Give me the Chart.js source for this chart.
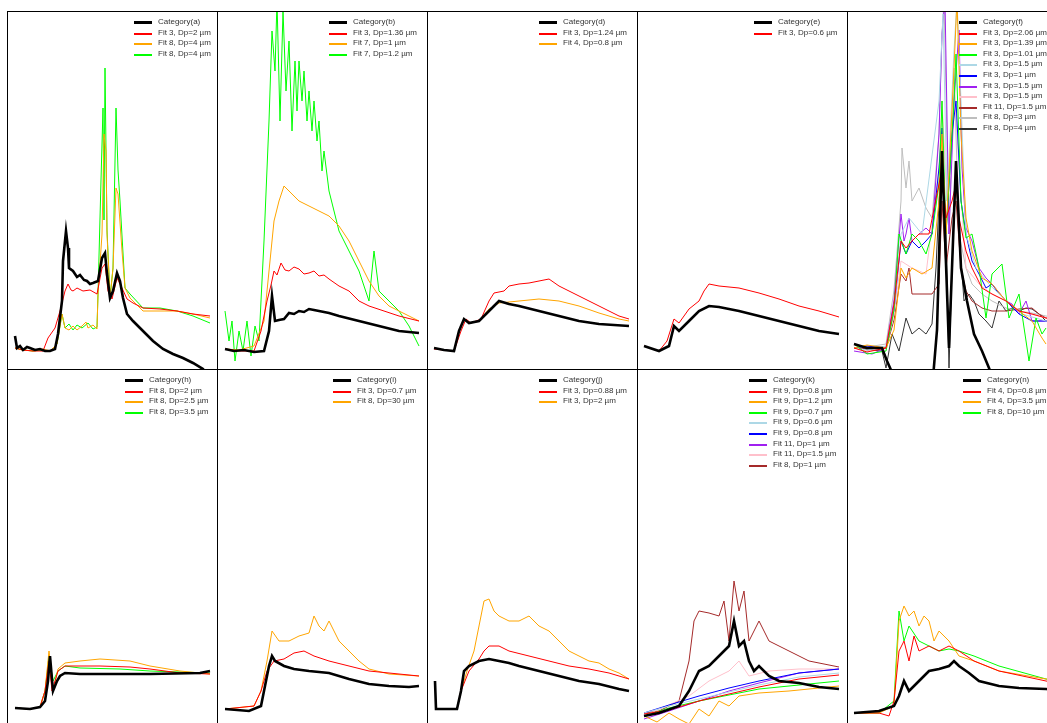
<!DOCTYPE html>
<html><head><meta charset="utf-8">
<script src="https://cdn.jsdelivr.net/npm/chart.js@4.4.0/dist/chart.umd.min.js"></script>
<style>
body{margin:0;background:#fff;width:1047px;height:723px;overflow:hidden;position:relative;font-family:"Liberation Sans",Arial,sans-serif;}
.panel{position:absolute;width:211px;height:359px;}
.panel canvas{position:absolute;left:0;top:0}
.frame{position:absolute;left:0;top:0;width:211px;height:359px;box-sizing:border-box;border:1px solid #000;pointer-events:none}
.legend{position:absolute;font-size:8px;color:#333;}
.legend .row{position:absolute;left:0;height:10px;white-space:nowrap}
.legend .sw{position:absolute;left:0;width:18px}
.legend .tx{position:absolute;left:24px;top:0;line-height:10px}
</style></head><body>
<script>
// ---- Panel (a)
const catA=[[8,34],[10,22],[13,24],[16,20],[20,23],[23,22],[28,20],[33,21],[38,19],[43,19],[48,21],[51,36],[55,69],[56,109],[59,139],[61,122],[62,102],[66,99],[70,93],[73,95],[77,90],[80,89],[83,86],[86,87],[91,89],[95,112],[98,117],[100,96],[103,72],[106,79],[110,97],[113,89],[116,72],[120,56],[126,49],[136,39],[146,29],[156,21],[166,16],[176,12],[186,7],[196,1],[200,-5]];
const a1=[[8,22],[16,20],[26,19],[36,19],[41,32],[48,42],[53,59],[58,79],[61,86],[64,80],[66,79],[70,82],[76,79],[83,80],[90,76],[95,102],[98,106],[101,79],[105,71],[110,92],[115,82],[120,71],[126,67],[136,62],[153,61],[170,59],[186,56],[203,54]];
const a2=[[8,22],[16,20],[26,19],[36,21],[43,19],[50,26],[55,56],[58,42],[62,40],[66,44],[70,40],[75,44],[79,48],[81,42],[86,45],[90,41],[91,76],[95,136],[97,236],[99,219],[100,136],[103,72],[106,102],[109,182],[111,176],[115,119],[118,82],[123,72],[136,59],[153,59],[170,59],[186,56],[203,52]];
const a3=[[8,22],[16,20],[26,19],[36,20],[43,19],[50,26],[55,56],[58,42],[62,46],[66,40],[70,45],[75,42],[81,47],[86,41],[90,43],[91,76],[94,190],[96,262],[97,150],[98,302],[100,140],[103,72],[106,102],[109,262],[111,200],[113,169],[118,82],[123,76],[136,62],[153,62],[170,59],[186,54],[203,47]];
// ---- Panel (b)
const catB=[[8,21],[17,19],[27,20],[37,18],[47,19],[52,39],[55,74],[58,49],[62,50],[67,51],[72,57],[77,56],[82,59],[87,58],[92,61],[97,60],[102,59],[112,57],[122,54],[142,49],[162,44],[182,39],[202,37]];
const b1=[[8,21],[22,19],[37,19],[44,39],[50,69],[54,85],[57,99],[60,95],[64,107],[68,100],[72,99],[77,103],[82,101],[87,96],[92,97],[97,99],[102,94],[107,95],[112,91],[122,84],[132,79],[142,69],[152,64],[167,59],[182,54],[202,49]];
const b2=[[8,21],[22,20],[37,24],[47,49],[52,99],[57,149],[62,169],[67,184],[72,179],[77,174],[82,169],[92,164],[102,159],[112,154],[122,144],[132,129],[142,109],[152,89],[162,74],[172,64],[182,59],[202,49]];
const b3=[[8,59],[12,29],[15,49],[18,9],[22,39],[26,19],[30,49],[34,14],[38,44],[42,29],[47,129],[52,249],[55,339],[58,299],[60,369],[63,249],[66,359],[69,279],[72,329],[75,239],[78,309],[80,259],[82,309],[85,269],[87,299],[90,249],[92,279],[95,239],[97,269],[100,229],[102,249],[105,199],[107,219],[112,179],[117,159],[122,139],[132,119],[142,99],[152,69],[157,119],[162,79],[172,69],[182,59],[192,44],[202,24]];
// ---- Panel (d)
const catD=[[7,22],[17,20],[27,19],[32,39],[37,51],[42,47],[52,49],[62,59],[67,64],[72,69],[82,66],[92,64],[112,59],[132,54],[152,49],[172,46],[202,44]];
const d1=[[7,21],[17,20],[27,19],[34,39],[39,51],[44,47],[54,51],[62,69],[67,77],[77,79],[82,84],[92,86],[102,87],[112,89],[122,91],[132,84],[142,79],[152,74],[162,69],[172,64],[182,59],[192,54],[202,51]];
const d2=[[7,22],[17,20],[27,19],[32,39],[37,51],[42,47],[52,49],[62,61],[72,67],[92,69],[112,71],[132,69],[152,64],[172,57],[192,51],[202,49]];
// ---- Panel (e)
const catE=[[7,24],[22,19],[32,24],[37,44],[42,39],[52,49],[62,59],[72,64],[82,63],[102,59],[122,54],[142,49],[162,44],[182,39],[202,36]];
const e1=[[7,24],[22,19],[30,29],[37,51],[42,47],[52,61],[62,69],[67,79],[72,86],[82,84],[102,82],[122,77],[142,71],[162,64],[182,59],[202,53]];
// ---- Panel (f)
const catF=[[7,26],[20,22],[35,22],[40,9],[44,0],[60,-20],[85,-20],[90,40],[95,219],[102,22],[109,209],[114,102],[120,69],[127,36],[135,19],[142,2],[150,-20]];
const f1=[[7,22],[20,18],[39,22],[47,66],[54,129],[59,122],[65,129],[72,136],[82,136],[92,186],[95,202],[99,152],[105,169],[109,186],[112,152],[119,119],[125,102],[135,82],[145,76],[159,69],[172,59],[185,56],[199,52],[211,50]];
const f2=[[7,22],[20,25],[39,22],[47,40],[54,102],[59,92],[65,102],[75,96],[85,102],[92,169],[95,236],[99,136],[107,302],[110,370],[114,236],[119,152],[125,119],[135,92],[145,86],[159,69],[172,59],[185,49],[195,32],[199,26]];
const f3=[[7,26],[20,16],[39,19],[47,60],[52,136],[59,116],[65,136],[72,129],[79,116],[85,136],[92,186],[95,269],[99,136],[107,269],[109,316],[114,169],[119,132],[125,136],[132,102],[139,52],[145,96],[155,106],[162,52],[172,76],[182,9],[189,52],[195,36],[199,42]];
const f4=[[7,22],[20,20],[39,24],[47,60],[54,136],[62,152],[75,136],[92,269],[96,356],[100,169],[107,319],[110,370],[114,269],[119,136],[129,102],[142,86],[159,69],[175,56],[199,49],[211,47]];
const f5=[[7,22],[20,24],[39,22],[47,60],[54,129],[59,116],[65,129],[72,122],[79,129],[85,136],[92,202],[95,242],[99,136],[105,236],[109,269],[114,169],[119,136],[125,109],[132,96],[139,82],[145,86],[152,76],[159,69],[172,56],[185,49],[199,49],[211,45]];
const f6=[[7,19],[25,16],[39,22],[47,70],[54,156],[57,129],[59,136],[62,152],[65,129],[72,136],[79,142],[85,136],[92,236],[95,336],[98,370],[102,136],[107,269],[112,340],[115,202],[119,142],[125,129],[132,102],[139,92],[145,86],[159,69],[165,66],[172,56],[179,69],[185,49],[199,49],[211,47]];
const f7=[[7,22],[20,19],[39,22],[47,55],[54,109],[65,102],[79,96],[92,202],[95,269],[100,169],[107,286],[112,202],[119,102],[132,86],[145,76],[159,69],[172,59],[199,52],[211,50]];
const f8=[[7,22],[20,21],[39,22],[47,50],[54,96],[59,89],[62,102],[65,76],[79,76],[85,76],[92,86],[95,169],[99,102],[105,152],[109,169],[114,102],[119,79],[125,69],[135,62],[145,59],[159,59],[172,61],[185,62],[192,56],[199,52],[211,50]];
const f9=[[7,22],[20,23],[39,26],[47,80],[54,169],[55,222],[59,182],[62,209],[65,169],[72,182],[79,162],[85,152],[92,236],[95,336],[97,370],[102,136],[107,302],[112,136],[119,102],[125,86],[135,76],[145,69],[159,62],[172,59],[185,57],[199,54],[211,52]];
const f10=[[7,26],[20,20],[35,19],[39,2],[45,36],[52,19],[59,52],[65,36],[72,42],[79,36],[85,46],[89,102],[92,169],[95,202],[99,136],[102,2],[105,102],[109,202],[112,136],[117,69],[122,76],[127,69],[132,56],[139,49],[145,42],[152,69],[159,59],[165,62],[172,59],[179,62],[185,61],[192,56],[199,49],[211,45]];
// ---- Panel (h)
const catH=[[8,20],[23,19],[33,21],[38,27],[41,47],[43,72],[46,37],[50,47],[53,52],[58,55],[73,54],[93,54],[143,54],[193,55],[203,57]];
const h1=[[8,20],[23,19],[33,21],[38,37],[42,67],[45,37],[51,57],[58,62],[73,62],[93,62],[123,61],[143,59],[173,55],[203,54]];
const h2=[[8,20],[23,19],[33,21],[38,37],[42,77],[46,37],[51,59],[58,65],[73,67],[93,69],[123,67],[143,62],[173,57],[203,54]];
const h3=[[8,20],[23,19],[33,21],[38,37],[42,72],[46,47],[51,57],[58,62],[73,60],[113,59],[143,57],[203,55]];
// ---- Panel (i)
const catI=[[8,19],[32,17],[44,22],[47,37],[52,62],[55,72],[58,67],[67,62],[77,59],[92,57],[112,55],[132,49],[152,44],[172,42],[192,41],[202,42]];
const i1=[[8,19],[37,22],[44,37],[50,57],[57,67],[67,69],[77,75],[87,77],[97,72],[112,67],[132,62],[152,57],[172,55],[202,52]];
const i2=[[8,19],[37,22],[44,37],[50,67],[55,97],[62,87],[72,87],[82,92],[92,95],[97,112],[102,102],[107,97],[112,107],[117,97],[122,87],[132,77],[142,67],[152,59],[172,54],[202,52]];
// ---- Panel (j)
const catJ=[[8,47],[9,19],[30,19],[34,37],[37,57],[42,62],[52,67],[62,69],[72,67],[82,65],[92,62],[112,57],[132,52],[152,47],[172,44],[192,39],[202,37]];
const j1=[[9,19],[30,19],[34,37],[42,57],[52,69],[57,77],[62,82],[72,82],[82,77],[102,72],[122,67],[142,62],[162,59],[182,55],[202,49]];
const j2=[[9,19],[30,19],[34,37],[40,57],[47,77],[52,102],[57,127],[62,129],[67,117],[72,112],[82,107],[92,107],[102,112],[112,102],[122,97],[132,87],[142,77],[152,72],[162,67],[172,65],[182,59],[192,55],[202,49]];
// ---- Panel (k)
const catK=[[7,12],[22,15],[42,22],[52,37],[57,47],[62,57],[72,62],[82,72],[92,82],[97,107],[102,82],[107,87],[112,67],[117,57],[122,62],[132,52],[142,47],[162,45],[182,41],[202,39]];
const k1=[[7,14],[32,18],[62,27],[92,34],[122,41],[162,49],[202,53]];
const k2=[[7,12],[20,6],[32,15],[42,9],[52,4],[62,19],[72,12],[82,27],[92,22],[102,32],[122,35],[152,37],[172,39],[202,42]];
const k3=[[7,12],[32,20],[62,27],[92,33],[122,39],[162,43],[202,47]];
const k4=[[7,15],[32,22],[62,29],[92,36],[122,43],[162,51],[202,55]];
const k5=[[7,15],[32,23],[62,32],[92,40],[122,47],[162,55],[202,59]];
const k6=[[7,9],[32,17],[62,27],[92,37],[122,45],[162,55],[202,59]];
const k7=[[7,12],[52,32],[72,47],[92,57],[102,67],[112,52],[132,57],[162,59],[202,59]];
const k8=[[7,15],[22,17],[42,27],[52,67],[57,107],[62,117],[72,115],[82,112],[87,127],[92,87],[97,147],[102,117],[107,137],[112,87],[122,107],[132,87],[152,77],[172,67],[202,61]];
// ---- Panel (n)
const catN=[[7,15],[32,17],[47,22],[52,32],[57,47],[62,37],[72,47],[82,57],[92,59],[102,62],[107,67],[112,62],[122,55],[132,47],[152,42],[172,40],[199,39],[211,38]];
const n1=[[7,15],[32,15],[42,12],[47,27],[52,77],[57,87],[62,67],[67,92],[72,77],[82,82],[92,77],[102,82],[112,77],[127,67],[152,57],[199,47],[211,45]];
const n2=[[7,15],[32,15],[47,22],[52,107],[57,122],[62,112],[67,117],[72,102],[77,112],[82,107],[87,87],[92,97],[102,87],[112,72],[127,67],[152,57],[199,49],[211,47]];
const n3=[[7,15],[32,15],[47,27],[52,117],[57,87],[62,102],[72,87],[82,82],[92,77],[102,79],[112,77],[127,72],[152,62],[199,49],[211,47]];

const C={black:'#000000',red:'#ff0000',orange:'#ffa500',green:'#00ff00',lblue:'#add8e6',blue:'#0000ff',purple:'#a020f0',pink:'#ffc0cb',brown:'#a52a2a',grey:'#bebebe',dgrey:'#333333'};

const panels=[
 {col:0,row:0,lx:127,s:[['Category(a)',catA,'black'],['Fit 3, Dp=2 µm',a1,'red'],['Fit 8, Dp=4 µm',a2,'orange'],['Fit 8, Dp=4 µm',a3,'green']]},
 {col:1,row:0,lx:112,s:[['Category(b)',catB,'black'],['Fit 3, Dp=1.36 µm',b1,'red'],['Fit 7, Dp=1 µm',b2,'orange'],['Fit 7, Dp=1.2 µm',b3,'green']]},
 {col:2,row:0,lx:112,s:[['Category(d)',catD,'black'],['Fit 3, Dp=1.24 µm',d1,'red'],['Fit 4, Dp=0.8 µm',d2,'orange']]},
 {col:3,row:0,lx:117,s:[['Category(e)',catE,'black'],['Fit 3, Dp=0.6 µm',e1,'red']]},
 {col:4,row:0,lx:112,s:[['Category(f)',catF,'black'],['Fit 3, Dp=2.06 µm',f1,'red'],['Fit 3, Dp=1.39 µm',f2,'orange'],['Fit 3, Dp=1.01 µm',f3,'green'],['Fit 3, Dp=1.5 µm',f4,'lblue'],['Fit 3, Dp=1 µm',f5,'blue'],['Fit 3, Dp=1.5 µm',f6,'purple'],['Fit 3, Dp=1.5 µm',f7,'pink'],['Fit 11, Dp=1.5 µm',f8,'brown'],['Fit 8, Dp=3 µm',f9,'grey'],['Fit 8, Dp=4 µm',f10,'dgrey']]},
 {col:0,row:1,lx:118,s:[['Category(h)',catH,'black'],['Fit 8, Dp=2 µm',h1,'red'],['Fit 8, Dp=2.5 µm',h2,'orange'],['Fit 8, Dp=3.5 µm',h3,'green']]},
 {col:1,row:1,lx:116,s:[['Category(i)',catI,'black'],['Fit 3, Dp=0.7 µm',i1,'red'],['Fit 8, Dp=30 µm',i2,'orange']]},
 {col:2,row:1,lx:112,s:[['Category(j)',catJ,'black'],['Fit 3, Dp=0.88 µm',j1,'red'],['Fit 3, Dp=2 µm',j2,'orange']]},
 {col:3,row:1,lx:112,s:[['Category(k)',catK,'black'],['Fit 9, Dp=0.8 µm',k1,'red'],['Fit 9, Dp=1.2 µm',k2,'orange'],['Fit 9, Dp=0.7 µm',k3,'green'],['Fit 9, Dp=0.6 µm',k4,'lblue'],['Fit 9, Dp=0.8 µm',k5,'blue'],['Fit 11, Dp=1 µm',k6,'purple'],['Fit 11, Dp=1.5 µm',k7,'pink'],['Fit 8, Dp=1 µm',k8,'brown']]},
 {col:4,row:1,lx:116,s:[['Category(n)',catN,'black'],['Fit 4, Dp=0.8 µm',n1,'red'],['Fit 4, Dp=3.5 µm',n2,'orange'],['Fit 8, Dp=10 µm',n3,'green']]}
];

panels.forEach(p=>{
  const div=document.createElement('div');div.className='panel';
  div.style.left=(7+210*p.col)+'px';div.style.top=(11+358*p.row)+'px';
  const cv=document.createElement('canvas');cv.width=211;cv.height=359;cv.style.width='211px';cv.style.height='359px';
  div.appendChild(cv);
  const fr=document.createElement('div');fr.className='frame';div.appendChild(fr);
  const lg=document.createElement('div');lg.className='legend';lg.style.left=p.lx+'px';lg.style.top='0px';
  p.s.forEach((s,i)=>{
    const r=document.createElement('div');r.className='row';r.style.top=Math.round(6+i*10.6)+'px';
    const sw=document.createElement('div');sw.className='sw';
    const th=i===0?3:2;
    sw.style.height=th+'px';sw.style.top=(i===0?4:5)+'px';sw.style.background=C[s[2]];
    const t=document.createElement('span');t.className='tx';t.textContent=s[0];
    r.appendChild(sw);r.appendChild(t);lg.appendChild(r);
  });
  div.appendChild(lg);
  document.body.appendChild(div);
  new Chart(cv,{type:'line',
    data:{datasets:p.s.map((s,i)=>({label:s[0],data:s[1].map(q=>({x:q[0],y:q[1]})),borderColor:C[s[2]],borderWidth:i===0?2.6:1,pointRadius:0,tension:0,fill:false}))},
    options:{responsive:false,animation:false,events:[],
      layout:{padding:0},
      plugins:{legend:{display:false},tooltip:{enabled:false}},
      scales:{x:{type:'linear',min:0,max:211,display:false},y:{type:'linear',min:0,max:359,display:false}}}});
});
</script>
</body></html>
